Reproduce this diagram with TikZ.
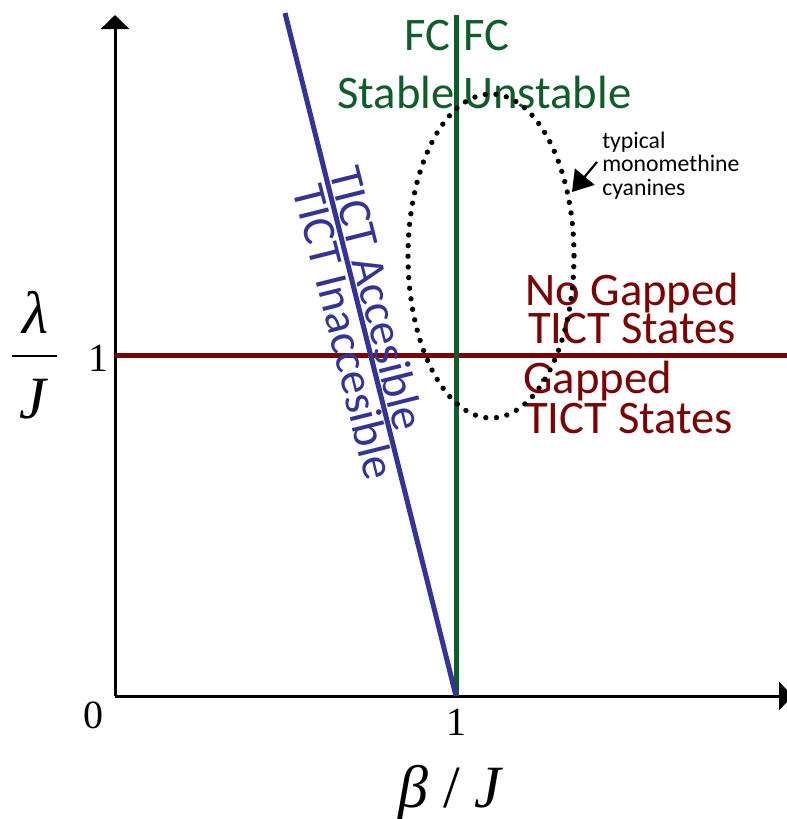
\documentclass[tikz,border=0pt]{standalone}
\usepackage{fontspec}
\setmainfont{Carlito}
\newfontfamily\tms{Liberation Serif}
\usetikzlibrary{arrows.meta}
\definecolor{lblue}{RGB}{52,52,150}
\definecolor{lgreen}{RGB}{16,92,42}
\definecolor{lred}{RGB}{122,4,4}
\begin{document}
\begin{tikzpicture}[x=0.75pt,y=-0.75pt,
  axis/.style={line width=2.25pt,-{Triangle[length=10.5pt,width=21pt]}},
  bigtxt/.style={font=\fontsize{35}{42}\selectfont, inner sep=0pt},
  smalltxt/.style={font=\fontsize{17.8}{17.6}\selectfont, align=left, inner sep=0pt},
  sertxt/.style={font=\tms\fontsize{45}{50}\selectfont, inner sep=0pt},
  digit/.style={font=\tms\fontsize{30}{34}\selectfont, inner sep=0pt},
  phaseline/.style={line width=3.75pt}]
\useasboundingbox[fill=white] (0,0) rectangle (787,819);
% coordinates
\coordinate (O) at (115,696);
\coordinate (Ytop) at (115,15);
\coordinate (Xend) at (793,696);
\coordinate (Btop) at (285,13);
\coordinate (Bbot) at (456,696);
\coordinate (Gtop) at (456,15);
\coordinate (Rl) at (115,355);
\coordinate (Rr) at (790,355);
% axes
\draw[axis] (O) -- (Ytop);
\draw[axis] (O) -- (Xend);
% phase lines
\draw[phaseline, lred] (Rl) -- (Rr);
\draw[phaseline, lgreen] (Bbot) -- (Gtop);
\draw[phaseline, lblue] (Btop) -- (Bbot);
% blue labels
\path (Btop) -- (Bbot)
  node[pos=0.425, sloped, above=3pt, bigtxt, text=lblue] (acc) {TICT Accesible}
  node[pos=0.46, sloped, below=2pt, bigtxt, text=lblue] (inacc) {TICT Inaccesible};
% green labels
\node[bigtxt, text=lgreen, anchor=base east] (fc1) at (451,50) {FC};
\node[bigtxt, text=lgreen, anchor=base west] (fc2) at (463,50) {FC};
\node[bigtxt, text=lgreen, anchor=base east] (st) at (455,108) {Stable};
\node[bigtxt, text=lgreen, anchor=base west] (unst) at (463,108) {Unstable};
% red labels
\node[bigtxt, text=lred, anchor=base west] (ng1) at (525,305) {No Gapped};
\node[bigtxt, text=lred, anchor=base west] (ng2) at (528,343) {TICT States};
\node[bigtxt, text=lred, anchor=base west] (g1) at (523,393) {Gapped};
\node[bigtxt, text=lred, anchor=base west] (g2) at (525,433) {TICT States};
% annotation
\node[smalltxt, anchor=base west] (typ) at (602,195) {typical\\monomethine\\cyanines};
\coordinate (As) at (597,162);
\coordinate (Ae) at (572,192);
\draw[line width=1.6pt, -{Triangle[length=15pt,width=19pt]}] (As) -- (Ae);
% axis labels
\node[sertxt, anchor=base] (lam) at (35,333) {\itshape λ};
\node[sertxt, anchor=base] (jj) at (33,418) {\itshape J};
\coordinate (Fl) at (12,356);
\coordinate (Fr) at (57,356);
\draw[line width=2pt] (Fl) -- (Fr);
\node[digit, anchor=base] (y1) at (98,371) {1};
\node[digit, anchor=base] (x0) at (94,728) {0};
\node[digit, anchor=base] (x1) at (456,735) {1};
\node[sertxt, anchor=base] (xl) at (450,807) {{\itshape β} / {\itshape J}};
% ellipse
\draw[line width=4pt, dash pattern=on 0pt off 8pt, line cap=round] (491,256) ellipse [x radius=83, y radius=162];
\end{tikzpicture}
\end{document}
